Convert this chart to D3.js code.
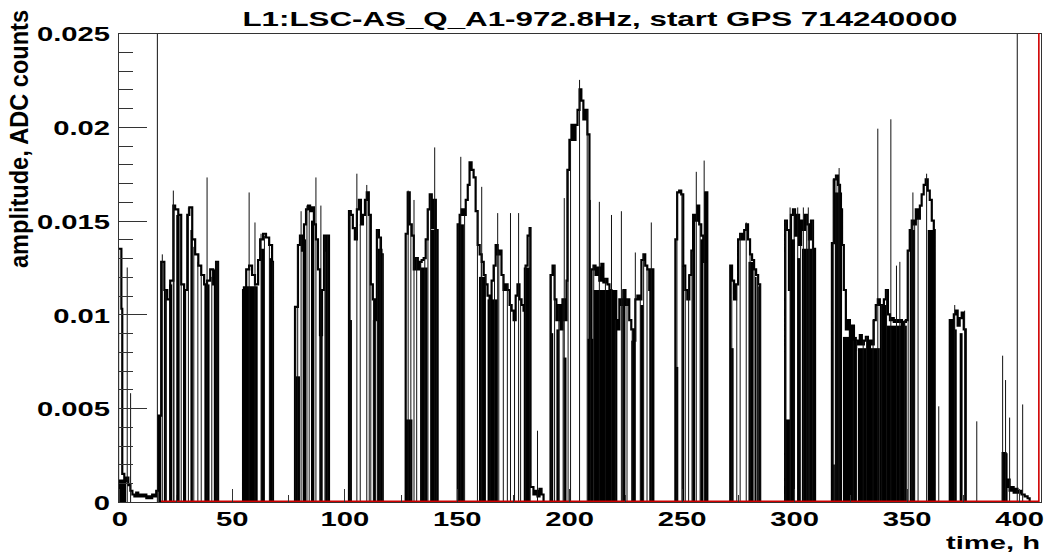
<!DOCTYPE html>
<html>
<head>
<meta charset="utf-8">
<script src="https://cdn.jsdelivr.net/npm/d3@7"></script>
<style>
  body { margin: 0; background: #fff; }
  svg { display: block; background: #fff; }
</style>
</head>
<body>
<svg id="chart" width="1049" height="556"></svg>
<script>
'use strict';

// amplitude trace [hour, ADC counts], drawn as steps; 0 = out of lock
const trace = [
  [-0.6, 0.0135], [0.9, 0.0103], [1.3, 0.0015], [2.2, 0.0011], [3.1, 0.0013], [4.0, 0.0009], [4.9, 0.0006],
  [5.8, 0.0004], [6.7, 0.0003], [7.5, 0.0005], [8.4, 0.0003], [9.3, 0.0004], [10.2, 0.0003], [11.1, 0.0004],
  [12.0, 0.0002], [12.9, 0.0003], [13.8, 0.0002], [14.6, 0.0004], [15.5, 0.0003], [16.4, 0.0006],
  [17.3, 0.0046], [18.6, 0.0128], [20.0, 0.0113], [21.3, 0.0108], [22.6, 0.0118], [24.0, 0.0158], [24.8, 0.0156],
  [26.2, 0.0153], [27.5, 0.0116], [28.8, 0.0113], [30.2, 0.0153], [31.1, 0.0157], [32.4, 0.014], [33.7, 0.0132],
  [35.1, 0.0126], [36.4, 0.0121], [37.7, 0.0116], [39.0, 0.0118], [40.4, 0.0124], [41.7, 0.0116], [43.0, 0.0128],
  [43.9, 0],
  [55.0, 0.0113], [56.4, 0.0124], [57.7, 0.0126], [59.0, 0.0121], [60.3, 0.0116], [61.7, 0.0129], [62.6, 0.014],
  [63.9, 0.0143], [65.2, 0.0141], [66.6, 0.0137], [67.9, 0.0128], [68.3, 0],
  [78.1, 0.0104], [79.4, 0.0137], [80.3, 0.0142], [81.2, 0.0134], [82.1, 0.0148], [83.0, 0.0156], [83.9, 0.0158],
  [84.8, 0.0155], [85.6, 0.0157], [86.5, 0.0148], [87.4, 0.014], [88.3, 0.0124], [89.2, 0.0089], [90.1, 0.0113],
  [91.0, 0.0142], [91.9, 0.0134], [92.7, 0.0142], [93.2, 0],
  [102.1, 0.0155], [102.9, 0.0153], [103.8, 0.0146], [104.7, 0.014], [105.6, 0.0156], [106.5, 0.0161],
  [107.4, 0.0148], [108.3, 0.0153], [109.2, 0.0161], [110.0, 0.0165], [110.9, 0.0153], [111.8, 0.0116],
  [112.7, 0.0108], [113.6, 0.0097], [114.5, 0.0145], [115.4, 0.0141], [116.3, 0.0132], [117.1, 0],
  [127.3, 0.0143], [128.2, 0.0165], [129.1, 0.0148], [130.0, 0.0142], [130.9, 0.0124], [131.8, 0.013],
  [132.7, 0.0124], [133.6, 0.0128], [134.4, 0.0129], [135.3, 0.013], [136.2, 0.014], [137.1, 0.0156],
  [138.0, 0.0164], [138.9, 0.0146], [139.8, 0.0161], [140.7, 0.0145], [141.5, 0],
  [150.4, 0.0148], [151.3, 0.0153], [152.2, 0.0156], [153.1, 0.0153], [154.0, 0.0161], [154.9, 0.0169],
  [155.7, 0.0181], [156.6, 0.0177], [157.5, 0.0173], [158.4, 0.0155], [159.3, 0.0137], [160.2, 0.0132],
  [161.1, 0.0128], [162.0, 0.0121], [162.8, 0.0116], [163.7, 0.011], [164.6, 0.0108], [165.5, 0.0118],
  [166.4, 0.0126], [167.3, 0.0137], [168.2, 0.0132], [169.1, 0.0134], [169.9, 0.0121], [170.8, 0.0113],
  [171.7, 0.0116], [172.6, 0.0113], [173.5, 0.0105], [174.4, 0.0102], [175.3, 0.0097], [176.2, 0.011],
  [177.0, 0.0116], [177.9, 0.0108], [178.8, 0.0105], [179.7, 0.0102], [180.6, 0.0126], [181.5, 0.0142],
  [182.4, 0.0146], [182.8, 0.0008], [184.1, 0.0004], [185.0, 0.0006], [185.9, 0.0003], [186.8, 0.0007],
  [187.7, 0.0004], [188.6, 0],
  [191.7, 0.0121], [192.6, 0.0126], [193.5, 0.0108], [194.3, 0.0097], [195.2, 0.0105], [196.1, 0.0092],
  [197.0, 0.0108], [197.9, 0.0097], [198.8, 0.0118], [199.2, 0.0177], [200.1, 0.0193], [201.0, 0.0201],
  [201.9, 0.0193], [202.8, 0.0201], [203.7, 0.0209], [204.6, 0.022], [205.4, 0.0214], [206.3, 0.0204],
  [207.2, 0.0209], [208.1, 0.0196], [209.0, 0.0087], [209.9, 0.0124], [210.8, 0.0126], [211.7, 0.0121],
  [212.5, 0.0125], [213.4, 0.0118], [214.3, 0.0127], [215.2, 0.0117], [216.1, 0.0119], [217.0, 0.0116],
  [217.9, 0.0113], [218.8, 0.0105], [219.6, 0.01], [220.5, 0.0097], [221.4, 0.0092], [222.3, 0.0108],
  [223.2, 0.0105], [224.1, 0.0113], [225.0, 0.0105], [225.9, 0.0108], [226.7, 0.0097], [227.6, 0.0092],
  [228.5, 0.0086], [229.4, 0.0108], [230.3, 0.011], [231.2, 0.0108], [232.1, 0.0129], [233.0, 0.0132],
  [233.8, 0.0126], [234.7, 0.0124], [235.6, 0.0113], [236.5, 0.0124], [237.4, 0],
  [247.2, 0.014], [248.0, 0.0165], [248.9, 0.0166], [249.8, 0.0164], [250.7, 0.0126], [251.6, 0.0113],
  [252.5, 0.0108], [253.4, 0.0121], [254.3, 0.0134], [255.1, 0.0153], [256.0, 0.015], [256.9, 0.0158],
  [257.8, 0.0148], [258.7, 0.0142], [259.6, 0.0128], [260.5, 0.0165], [261.4, 0],
  [271.6, 0.0126], [272.4, 0.0118], [273.3, 0.0108], [274.2, 0.0116], [275.1, 0.014], [276.0, 0.0143],
  [276.9, 0.014], [277.8, 0.0145], [278.7, 0.0148], [279.5, 0.014], [280.4, 0.0132], [281.3, 0.0129],
  [282.2, 0.0124], [283.1, 0.0121], [284.0, 0.0116], [284.9, 0],
  [296.0, 0.015], [296.8, 0.0145], [297.7, 0.0113], [298.6, 0.0153], [299.5, 0.0156], [300.4, 0.0142],
  [301.3, 0.0153], [302.2, 0.0137], [303.1, 0.015], [303.9, 0.0145], [304.8, 0.0153], [305.7, 0.0148],
  [306.6, 0.014], [307.5, 0.015], [308.4, 0.0135], [309.3, 0],
  [316.8, 0.0138], [317.7, 0.0172], [318.6, 0.0174], [319.5, 0.0169], [320.4, 0.0156], [321.3, 0.0137],
  [322.1, 0.0113], [323.0, 0.0092], [323.9, 0.0097], [324.8, 0.0086], [325.7, 0.0094], [326.6, 0.0081],
  [327.5, 0.0086], [328.4, 0.0084], [329.2, 0.0089], [330.1, 0.0084], [331.0, 0.0086], [331.9, 0.0088],
  [332.8, 0.0081], [333.7, 0.0086], [334.6, 0.0084], [335.4, 0.0097], [336.3, 0.0105], [337.2, 0.0108],
  [338.1, 0.0105], [339.0, 0.0097], [339.9, 0.0108], [340.8, 0.0113], [341.7, 0.01], [342.6, 0.0097],
  [343.4, 0.0098], [344.3, 0.0096], [345.2, 0.0097], [346.1, 0.0096], [347.0, 0.0097], [347.9, 0.0094],
  [348.8, 0.0096], [349.7, 0.0097], [350.5, 0.0134], [351.4, 0.0145], [352.3, 0.015], [353.2, 0.0148],
  [354.1, 0.0156], [355.0, 0.0151], [355.9, 0.0158], [356.7, 0.0164], [357.6, 0.0169], [358.5, 0.0172],
  [359.4, 0.0166], [360.3, 0.0161], [361.2, 0.015], [362.1, 0.0145], [362.5, 0],
  [369.2, 0.0097], [370.1, 0.0092], [371.0, 0.01], [371.8, 0.0102], [372.7, 0.0094], [373.6, 0.0098],
  [374.5, 0.0101], [375.4, 0.0092], [376.3, 0],
  [392.7, 0.0026], [394.0, 0.0008], [394.9, 0.0012], [395.8, 0.0006], [396.7, 0.0008], [397.6, 0.0005],
  [398.5, 0.0007], [399.3, 0.0005], [400.2, 0.0006], [401.1, 0.0004], [402.5, 0.0003], [403.8, 0.0002],
  [404.7, 0]
];

// stretches with many dropouts, filled black: [from hour, to hour, top]
const blocks = [
  [-0.6, 3.0, 0.0012], [17.3, 18.6, 0.0046], [19.8, 21.1, 0.0113], [22.1, 23.5, 0.0116], [25.3, 26.8, 0.0153],
  [28.3, 29.7, 0.0113], [31.6, 32.7, 0.0145], [37.8, 40.1, 0.0116], [42.0, 43.8, 0.0124],
  [54.9, 61.5, 0.0115], [63.0, 64.5, 0.0135], [66.7, 68.2, 0.013],
  [78.2, 80.3, 0.0067], [81.5, 83.0, 0.014], [85.2, 86.7, 0.015], [88.9, 90.4, 0.0089], [91.5, 93.0, 0.0135],
  [102.1, 103.4, 0.0097], [112.7, 114.0, 0.0097], [114.8, 117.0, 0.0135],
  [127.2, 130.3, 0.0044], [133.7, 137.0, 0.0125], [138.4, 141.4, 0.0145],
  [150.3, 153.2, 0.0148], [159.9, 162.8, 0.012], [163.7, 168.2, 0.0108], [179.8, 182.8, 0.0125],
  [191.7, 192.9, 0.009], [194.3, 195.7, 0.0092], [197.5, 198.8, 0.0077], [208.1, 210.8, 0.0087],
  [210.9, 221.4, 0.0113], [223.6, 225.0, 0.0105], [227.6, 229.4, 0.0086], [231.6, 233.0, 0.0105],
  [235.6, 237.4, 0.0113],
  [247.2, 248.5, 0.0072], [250.2, 251.1, 0.0126], [254.7, 256.0, 0.015], [258.3, 259.6, 0.014], [260.0, 261.2, 0.0165],
  [271.6, 273.1, 0.0082], [279.7, 281.9, 0.0128], [282.6, 283.3, 0.012], [284.0, 284.9, 0.0115],
  [296.0, 298.2, 0.0044], [298.2, 300.4, 0.014], [301.3, 302.6, 0.013], [303.5, 309.3, 0.0135],
  [316.8, 318.1, 0.002], [318.1, 321.3, 0.0165], [321.7, 327.9, 0.0088], [328.4, 338.1, 0.0082],
  [338.1, 341.2, 0.0105], [341.2, 350.1, 0.0094], [351.4, 353.7, 0.0145], [359.4, 362.5, 0.0145],
  [369.2, 372.3, 0.0092], [373.6, 374.9, 0.009],
  [392.7, 394.9, 0.0026]
];

// single dropouts / glitches: [hour, top]
const spikes = [
  [-0.3, 0.0135], [3.5, 0.0125], [5.0, 0.0058], [16.9, 0.03],
  [19.1, 0.0132], [20.5, 0.0113], [24.0, 0.0166], [24.3, 0.0158], [27.5, 0.0116], [30.7, 0.0157], [33.1, 0.0136],
  [34.9, 0.0128], [36.4, 0.0121], [39.0, 0.0173], [41.1, 0.012], [43.0, 0.0128], [43.8, 0.0128],
  [57.7, 0.0165], [60.3, 0.0149], [63.0, 0.0143], [64.5, 0.0142], [66.7, 0.0137], [68.2, 0.0128],
  [78.4, 0.0104], [79.3, 0.0137], [80.8, 0.0155], [83.4, 0.0158], [84.4, 0.0155], [87.4, 0.0173], [89.6, 0.0158],
  [91.4, 0.0142], [92.6, 0.0142],
  [102.6, 0.0155], [105.6, 0.0175], [107.1, 0.0148], [110.0, 0.0169], [111.1, 0.0153], [111.8, 0.0116],
  [113.0, 0.0108], [114.0, 0.0097], [114.8, 0.0145], [115.9, 0.0141], [117.0, 0.0132],
  [128.4, 0.0166], [129.6, 0.0148], [131.0, 0.0161], [132.2, 0.013], [134.0, 0.0128], [135.8, 0.013],
  [137.2, 0.0156], [138.4, 0.0164], [140.2, 0.0189], [141.1, 0.0145],
  [150.7, 0.0148], [151.8, 0.0184], [153.5, 0.0153], [159.2, 0.0155], [160.9, 0.0132], [161.1, 0.0168],
  [162.8, 0.0121], [164.8, 0.0108], [166.8, 0.0126], [168.2, 0.0154], [168.7, 0.0134], [170.7, 0.0121],
  [172.5, 0.0116], [173.9, 0.0154], [175.7, 0.0097], [177.5, 0.0154], [178.4, 0.0108], [180.6, 0.0126],
  [182.5, 0.0146], [185.9, 0.0038],
  [192.0, 0.0121], [193.5, 0.0126], [195.4, 0.0105], [197.3, 0.0108], [197.8, 0.0162], [199.5, 0.0177],
  [200.6, 0.0193], [204.6, 0.0225], [208.0, 0.0209], [209.4, 0.0161], [210.9, 0.0126], [213.4, 0.016],
  [216.1, 0.0119], [218.8, 0.0153], [220.5, 0.0097], [223.2, 0.0155], [223.9, 0.0113], [225.7, 0.0108],
  [228.0, 0.0092], [229.4, 0.0133], [231.6, 0.0108], [233.1, 0.0132], [234.6, 0.0124], [236.5, 0.0149],
  [247.9, 0.0165], [250.1, 0.0164], [251.6, 0.0113], [253.1, 0.0121], [254.6, 0.0134], [256.5, 0.0176],
  [258.2, 0.0148], [260.0, 0.0182],
  [272.3, 0.0118], [274.5, 0.0116], [276.0, 0.0143], [278.7, 0.0149], [280.4, 0.0132], [282.2, 0.0124],
  [283.7, 0.0121], [284.9, 0.0116],
  [296.3, 0.015], [298.2, 0.0157], [300.0, 0.0156], [301.6, 0.0157], [302.9, 0.0137], [304.1, 0.0157],
  [305.6, 0.0153], [306.3, 0.0157], [306.8, 0.014], [308.2, 0.015],
  [317.4, 0.0172], [318.6, 0.0174], [319.6, 0.0169], [320.0, 0.0178], [326.3, 0.0086], [327.8, 0.0086],
  [330.7, 0.0086], [332.2, 0.0088], [335.1, 0.0097], [337.2, 0.0199], [338.9, 0.0105], [341.1, 0.0113],
  [343.0, 0.0204], [345.5, 0.0126], [347.0, 0.0128], [349.2, 0.0097], [350.7, 0.0134], [352.2, 0.015],
  [352.8, 0.0165], [353.6, 0.0148], [355.1, 0.0151], [358.9, 0.0175],
  [364.3, 0.0051], [371.4, 0.0105], [375.8, 0.0102], [381.2, 0.0043],
  [392.7, 0.0078], [394.0, 0.0065], [395.8, 0.0045], [399.2, 0.03], [401.6, 0.0052]
];

// second (red) histogram: flat zero, closing at the last bin
const redTrace = [[18.5, 0], [408.8, 0], [408.8, 0.03]];

const xTicks = [0, 50, 100, 150, 200, 250, 300, 350, 400];
const xMinorTicks = [25, 75, 125, 175, 225, 275, 325, 375];
const yTicks = [0, 0.005, 0.01, 0.015, 0.02, 0.025];
const yTickLabels = ["0", "0.005", "0.01", "0.015", "0.02", "0.025"];

const title = "L1:LSC-AS_Q_A1-972.8Hz, start GPS 714240000";
const xTitle = "time, h";
const yTitle = "amplitude, ADC counts";

const font = "'Liberation Sans', Arial, Helvetica, sans-serif";
const stretchX = 1.39;

const frame = { left: 118, top: 33, right: 1042, bottom: 502 };

const svg = d3.select("#chart");

const x = d3.scaleLinear().domain([-0.6, 410.2]).range([frame.left, frame.right]);
const y = d3.scaleLinear().domain([0, 0.025]).range([frame.bottom, frame.top]);

// widen glyphs like the original canvas
function stretch(sel, k) {
  sel.each(function () {
    const len = this.getComputedTextLength();
    d3.select(this).attr("textLength", len * k).attr("lengthAdjust", "spacingAndGlyphs");
  });
}

svg.append("defs").append("clipPath").attr("id", "clip")
  .append("rect")
  .attr("x", frame.left).attr("y", frame.top)
  .attr("width", frame.right - frame.left).attr("height", frame.bottom - frame.top);

const plot = svg.append("g").attr("clip-path", "url(#clip)");

plot.selectAll("rect.block")
  .data(blocks)
  .join("rect")
  .attr("class", "block")
  .attr("x", d => x(d[0]))
  .attr("width", d => x(d[1]) - x(d[0]))
  .attr("y", d => y(d[2]))
  .attr("height", d => y(0) - y(d[2]))
  .attr("fill", "#000");

const stepLine = d3.line()
  .x(d => x(d[0]))
  .y(d => y(d[1]))
  .curve(d3.curveStepAfter);

plot.append("path")
  .datum(trace)
  .attr("d", stepLine)
  .attr("fill", "none")
  .attr("stroke", "#000")
  .attr("stroke-width", 2.2);

plot.selectAll("line.spike")
  .data(spikes)
  .join("line")
  .attr("class", "spike")
  .attr("x1", d => x(d[0]))
  .attr("x2", d => x(d[0]))
  .attr("y1", y(0))
  .attr("y2", d => y(d[1]))
  .attr("stroke", "#111")
  .attr("stroke-width", 1);

// frame
svg.append("rect")
  .attr("x", frame.left + 0.5).attr("y", frame.top + 0.5)
  .attr("width", frame.right - frame.left - 1).attr("height", frame.bottom - frame.top)
  .attr("fill", "none")
  .attr("stroke", "#333")
  .attr("stroke-width", 1);

// red histogram sits on top of the frame's bottom edge
svg.append("path")
  .datum(redTrace)
  .attr("clip-path", "url(#clip)")
  .attr("d", d3.line().x(d => x(d[0])).y(d => y(d[1]) - 0.8))
  .attr("fill", "none")
  .attr("stroke", "#d00000")
  .attr("stroke-width", 1.6);

// y axis, ticks inside the frame
const yAxis = svg.append("g")
  .attr("transform", "translate(" + frame.left + ",0)")
  .call(d3.axisLeft(y).tickValues(yTicks).tickFormat((d, i) => yTickLabels[i])
    .tickSize(-29).tickSizeOuter(0).tickPadding(8));
yAxis.select(".domain").remove();

const yMinor = svg.append("g")
  .attr("transform", "translate(" + frame.left + ",0)")
  .call(d3.axisLeft(y).tickValues(d3.range(0.001, 0.025, 0.001)).tickFormat("")
    .tickSize(-15).tickSizeOuter(0));
yMinor.select(".domain").remove();

// x axis
const xAxis = svg.append("g")
  .attr("transform", "translate(0," + frame.bottom + ")")
  .call(d3.axisBottom(x).tickValues(xTicks).tickSize(-13).tickSizeOuter(0).tickPadding(10));
xAxis.select(".domain").remove();

const xMinor = svg.append("g")
  .attr("transform", "translate(0," + frame.bottom + ")")
  .call(d3.axisBottom(x).tickValues(xMinorTicks).tickFormat("").tickSize(-7).tickSizeOuter(0));
xMinor.select(".domain").remove();

svg.selectAll(".tick line").attr("stroke", "#333").attr("shape-rendering", "crispEdges");

[yAxis, xAxis].forEach(g => {
  g.attr("font-family", null).attr("font-size", null);
  g.selectAll("text")
    .attr("font-family", font)
    .attr("font-weight", "bold")
    .attr("font-size", 20)
    .attr("fill", "#000");
  stretch(g.selectAll("text"), stretchX * 21 / 20);
});
yAxis.selectAll("text").attr("dy", "0.38em");

// titles
const titleText = svg.append("text")
  .attr("x", 600).attr("y", 26)
  .attr("text-anchor", "middle")
  .attr("font-family", font).attr("font-weight", "bold").attr("font-size", 21)
  .text(title);
titleText.attr("textLength", 715).attr("lengthAdjust", "spacingAndGlyphs");

const xTitleText = svg.append("text")
  .attr("x", 1040).attr("y", 549)
  .attr("text-anchor", "end")
  .attr("font-family", font).attr("font-weight", "bold").attr("font-size", 19)
  .text(xTitle);
stretch(xTitleText, stretchX * 21 / 19);

svg.append("g")
  .attr("transform", "translate(28,10) scale(1.15,1) rotate(-90)")
  .append("text")
  .attr("text-anchor", "end")
  .attr("font-family", font).attr("font-weight", "bold").attr("font-size", 22)
  .attr("textLength", 258).attr("lengthAdjust", "spacingAndGlyphs")
  .text(yTitle);
</script>
</body>
</html>
